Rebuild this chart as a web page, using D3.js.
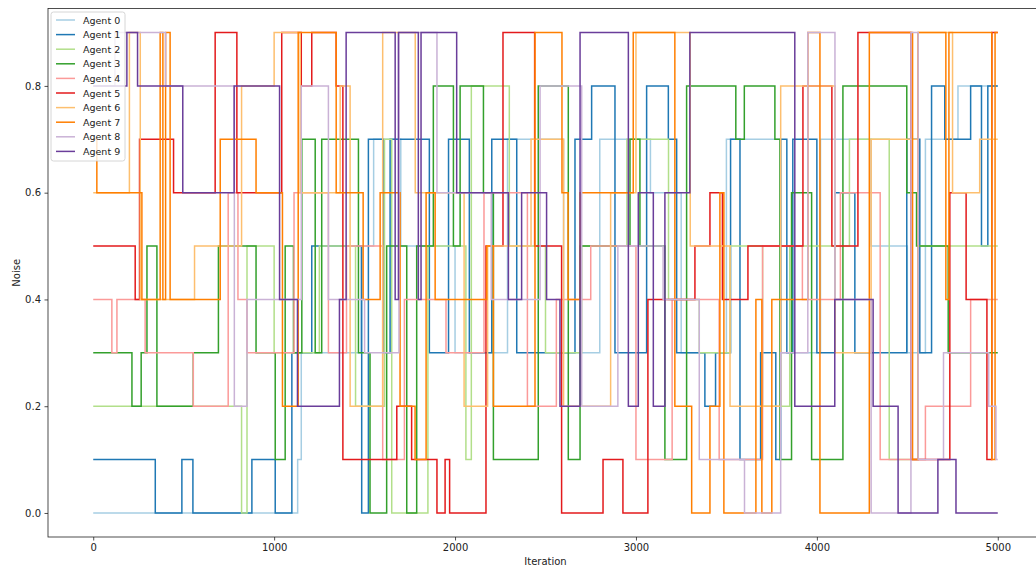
<!DOCTYPE html>
<html>
<head>
<meta charset="utf-8">
<script src="https://cdn.jsdelivr.net/npm/d3@7"></script>
<style>
  body { margin: 0; background: #fff; }
  text { font-family: "DejaVu Sans", sans-serif; }
</style>
</head>
<body>
<svg id="chart" width="1036" height="570"></svg>
<script>
// step series: [iteration, noise] change points
const agent0 = [[0,0],[1130,.1],[1150,.3],[1480,.5],[1550,.7],[1700,.5],[2000,.3],[2290,.7],[2600,.3],[2800,.7],[3080,.6],[3250,.3],[3500,.7],[3800,.3],[4020,.7],[4300,.5],[4500,.3],[4600,.7],[4780,.8]];
const agent1 = [[0,.1],[343,0],[490,.1],[551,0],[877,.1],[1006,0],[1098,.3],[1208,.5],[1484,0],[1521,.7],[1604,.3],[1641,.7],[1858,.3],[1964,.7],[2079,.3],[2203,.7],[2341,.3],[2663,.7],[2755,.8],[2884,.3],[3059,.8],[3179,.7],[3225,.3],[3381,.2],[3440,.3],[3523,.7],[3575,.1],[3689,.3],[3773,.1],[3800,.7],[3834,.3],[3867,.7],[4000,.3],[4099,.6],[4210,.3],[4497,.7],[4569,.3],[4634,.8],[4707,.7],[4850,.8],[4910,.5],[4945,.8]];
const agent2 = [[0,.2],[820,0],[850,.5],[1000,.3],[1250,.5],[1450,.2],[1610,.7],[1650,0],[1850,.5],[2060,.1],[2090,.8],[2300,.5],[2500,.3],[2700,.5],[2950,.7],[3180,.4],[3350,.3],[3520,.5],[3700,.2],[3850,.5],[4180,.7],[4400,.1],[4560,.5]];
const agent3 = [[0,.3],[214,.2],[265,.3],[297,.5],[352,.2],[553,.3],[692,.5],[900,.3],[1006,.1],[1061,.5],[1107,.3],[1153,.7],[1227,.3],[1263,.7],[1466,.3],[1530,0],[1622,.5],[1733,0],[1788,.5],[1880,.8],[1991,.5],[2028,.8],[2157,.6],[2212,.1],[2460,.8],[2626,.1],[2691,.5],[2967,.7],[3022,.5],[3160,.1],[3280,.8],[3552,.7],[3599,.8],[3768,.7],[3796,.1],[3860,.6],[3971,.1],[4144,.8],[4497,.6],[4551,.5],[4726,.3]];
const agent4 = [[0,.4],[103,.3],[131,.4],[287,.3],[553,.2],[746,.6],[800,.4],[850,.3],[1110,.6],[1300,.3],[1400,.5],[1600,.1],[1720,.4],[1950,.3],[2160,.6],[2400,.2],[2560,.4],[2750,.5],[3000,.1],[3200,.4],[3460,.1],[3700,.5],[3920,.4],[4130,.6],[4350,.1],[4600,.2],[4850,.4]];
const agent5 = [[0,.5],[232,.4],[256,.7],[444,.6],[674,.9],[794,.6],[1042,.9],[1150,.8],[1208,.9],[1343,.8],[1380,.1],[1678,.2],[1760,.1],[1900,0],[1945,.1],[1970,0],[2171,.5],[2265,.9],[2440,.5],[2589,0],[2818,.1],[2928,0],[3066,.4],[3326,.5],[3409,.6],[3478,.4],[3619,.5],[3923,.8],[4083,.5],[4227,.9],[4519,.1],[4735,.6],[4825,.4],[4940,.1],[4967,.9]];
const agent6 = [[0,.6],[200,.9],[260,.4],[560,.5],[820,.8],[1000,.9],[1144,.6],[1365,.8],[1420,.2],[1600,.9],[1780,.6],[2050,.2],[2180,.5],[2420,.7],[2600,.2],[2860,.6],[3000,.9],[3300,.5],[3520,.2],[3800,.8],[4100,.3],[4300,.7],[4560,.9],[4750,.6],[4900,.7]];
const agent7 = [[0,.7],[20,.6],[269,.4],[370,.9],[385,.4],[400,.9],[425,.4],[702,.7],[900,.6],[1046,.2],[1133,.9],[1343,.6],[1492,.4],[1586,.6],[1696,.2],[1779,.1],[1840,.6],[1890,.4],[2175,.5],[2212,.2],[2442,.9],[2591,.6],[2625,.4],[2691,.6],[2912,.6],[2985,.9],[3215,.2],[3308,0],[3409,.2],[3464,.6],[3486,0],[3663,.4],[3696,0],[3751,.4],[3950,.9],[4017,0],[4290,.9],[4529,.1],[4560,.9],[4713,.4],[4730,.9],[4967,.1],[4985,.9]];
const agent8 = [[0,.8],[120,.9],[400,.8],[780,.2],[850,.4],[1150,.8],[1300,.4],[1500,.3],[1690,.9],[1900,.6],[2200,.4],[2470,.8],[2700,.2],[2900,.5],[3150,.4],[3350,.1],[3600,0],[3800,.3],[3950,.9],[4100,.4],[4300,0],[4520,.9],[4560,.1],[4700,.3],[4950,.2],[4990,.1]];
const agent9 = [[0,.8],[186,.9],[245,.8],[495,.6],[779,.8],[1030,.4],[1129,.2],[1361,.4],[1398,.9],[1669,.4],[1687,.9],[1797,.4],[1812,.9],[2009,.6],[2295,.4],[2368,.6],[2506,.4],[2580,.2],[2691,.9],[2958,.2],[3013,.6],[3096,.2],[3160,.6],[3298,.9],[3878,.2],[4099,.4],[4311,.2],[4449,0],[4669,.1],[4769,0]];

const agentNames = ["Agent 0","Agent 1","Agent 2","Agent 3","Agent 4","Agent 5","Agent 6","Agent 7","Agent 8","Agent 9"];
const agentColors = ["#a6cee3","#1f78b4","#b2df8a","#33a02c","#fb9a99","#e31a1c","#fdbf6f","#ff7f00","#cab2d6","#6a3d9a"];
const xTicks = [0, 1000, 2000, 3000, 4000, 5000];
const yTicks = [0, 0.2, 0.4, 0.6, 0.8];
const lastIteration = 5000;

const series = [agent0, agent1, agent2, agent3, agent4, agent5, agent6, agent7, agent8, agent9];

const svg = d3.select("#chart");
const plotLeft = 48, plotRight = 1043, plotTop = 8.5, plotBottom = 537;

const x = d3.scaleLinear().domain([-250, 5250]).range([plotLeft, plotRight]);
const y = d3.scaleLinear().domain([-0.045, 0.945]).range([plotBottom, plotTop]);

const line = d3.line()
    .x(d => x(d[0]))
    .y(d => y(d[1]))
    .curve(d3.curveStepAfter);

series.forEach((s, i) => {
    const pts = s.concat([[lastIteration, s[s.length - 1][1]]]);
    svg.append("path")
        .datum(pts)
        .attr("fill", "none")
        .attr("stroke", agentColors[i])
        .attr("stroke-width", 1.5)
        .attr("d", line);
});

// spines
svg.append("rect")
    .attr("x", plotLeft).attr("y", plotTop)
    .attr("width", plotRight - plotLeft).attr("height", plotBottom - plotTop)
    .attr("fill", "none").attr("stroke", "#222").attr("stroke-width", 0.8);

const xAxis = svg.append("g")
    .attr("transform", `translate(0,${plotBottom})`)
    .call(d3.axisBottom(x).tickValues(xTicks).tickFormat(d3.format("d")).tickSize(3.5).tickPadding(3.5));
const yAxis = svg.append("g")
    .attr("transform", `translate(${plotLeft},0)`)
    .call(d3.axisLeft(y).tickValues(yTicks).tickFormat(d3.format(".1f")).tickSize(3.5).tickPadding(3.5));
[xAxis, yAxis].forEach(g => {
    g.select(".domain").remove();
    g.selectAll("text").attr("font-size", 10).attr("fill", "#222").style("font-family", "DejaVu Sans");
    g.selectAll("line").attr("stroke", "#222").attr("stroke-width", 0.8);
});

svg.append("text")
    .attr("x", (plotLeft + plotRight) / 2).attr("y", 565)
    .attr("text-anchor", "middle").attr("font-size", 10).attr("fill", "#222")
    .text("Iteration");
svg.append("text")
    .attr("transform", `translate(20,${(plotTop + plotBottom) / 2}) rotate(-90)`)
    .attr("text-anchor", "middle").attr("font-size", 10).attr("fill", "#222")
    .text("Noise");

// legend
const legend = svg.append("g").attr("transform", "translate(51,12)");
legend.append("rect")
    .attr("width", 74).attr("height", 149).attr("rx", 2.5)
    .attr("fill", "white").attr("fill-opacity", 0.8)
    .attr("stroke", "#ccc").attr("stroke-width", 0.8);
agentNames.forEach((name, i) => {
    const yy = 8 + i * 14.6;
    legend.append("line")
        .attr("x1", 5).attr("x2", 24).attr("y1", yy).attr("y2", yy)
        .attr("stroke", agentColors[i]).attr("stroke-width", 1.5);
    legend.append("text")
        .attr("x", 32).attr("y", yy + 3.5)
        .attr("font-size", 9.5).attr("fill", "#222")
        .text(name);
});
</script>
</body>
</html>
